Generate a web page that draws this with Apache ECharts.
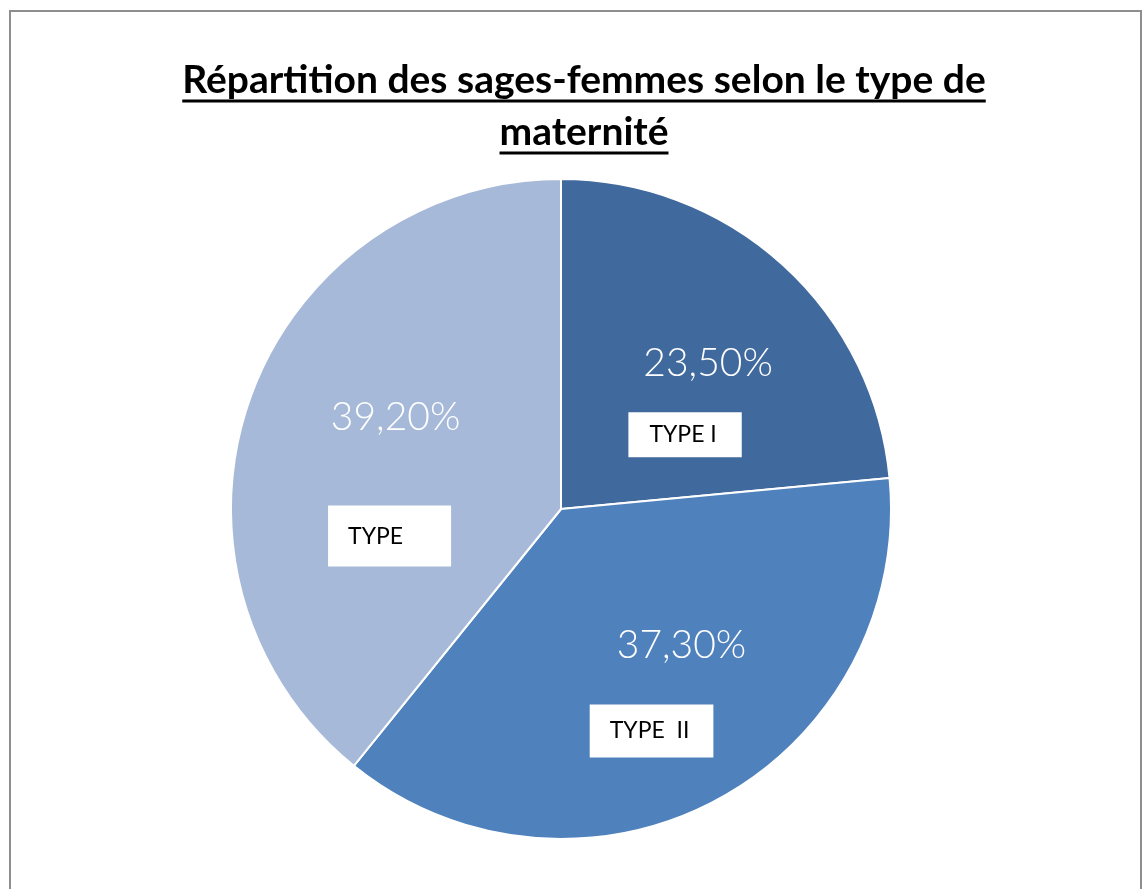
<!DOCTYPE html>
<html>
<head>
<meta charset="utf-8">
<script src="https://cdn.jsdelivr.net/npm/echarts@6/dist/echarts.min.js"></script>
<style>
  html, body { margin: 0; padding: 0; background: #fff; }
  #sf { width: 1143px; height: 889px; }
</style>
</head>
<body>
<div id="sf"></div>
<script>
var typeNames = ['TYPE I', 'TYPE  II', 'TYPE'];
var typeValues = [23.5, 37.3, 39.2];
var typeColors = ['rgb(64,105,157)', 'rgb(79,129,189)', 'rgb(167,185,216)'];
var titleLines = ['Répartition des sages-femmes selon le type de', 'maternité'];

// label placement (nudges from the slice "inside" point) and box sizes
var pctOffsets = [[34, -21], [41, -12], [-7, -36]];
var boxOffsets = [[11, 50], [11, 74], [-13, 83]];
var boxPads = [[0, 25, 0, 21], [0, 24, 0, 20], [0, 48, 0, 20]];
var boxHeights = [45, 53, 61];

var sfChart = echarts.init(document.getElementById('sf'));

var titleFont = 'bold 39px Lato';
var cvs = document.createElement('canvas').getContext('2d');
cvs.font = titleFont;

var titleY = [80, 132];
var graphics = [
  {
    type: 'rect',
    shape: { x: 10, y: 11, width: 1131, height: 900 },
    style: { fill: 'none', stroke: '#8e8e8e', lineWidth: 2 },
    z: 1
  }
];
for (var i = 0; i < titleLines.length; i++) {
  var w = cvs.measureText(titleLines[i]).width;
  graphics.push({
    type: 'text',
    x: 584, y: titleY[i],
    style: {
      text: titleLines[i],
      font: titleFont,
      fill: '#000',
      align: 'center',
      verticalAlign: 'middle'
    }
  });
  graphics.push({
    type: 'line',
    shape: { x1: 584 - w / 2, y1: titleY[i] + 21, x2: 584 + w / 2, y2: titleY[i] + 21 },
    style: { stroke: '#000', lineWidth: 3 }
  });
}

var pctData = [];
var boxData = [];
for (var k = 0; k < typeValues.length; k++) {
  pctData.push({
    value: typeValues[k],
    name: typeNames[k],
    itemStyle: { color: typeColors[k] },
    label: { offset: pctOffsets[k] }
  });
  boxData.push({
    value: typeValues[k],
    name: typeNames[k],
    label: {
      offset: boxOffsets[k],
      padding: boxPads[k],
      height: boxHeights[k],
      lineHeight: boxHeights[k]
    }
  });
}

var option = {
  backgroundColor: '#FFFFFF',
  animation: false,
  graphic: graphics,
  series: [
    {
      name: 'pct',
      type: 'pie',
      center: [561, 509],
      radius: [0, 330],
      startAngle: 90,
      clockwise: true,
      silent: true,
      itemStyle: { borderColor: '#fff', borderWidth: 2 },
      label: {
        position: 'inside',
        color: '#fff',
        fontFamily: 'Lato',
        fontWeight: 300,
        fontSize: 39,
        formatter: function (p) {
          return p.value.toFixed(2).replace('.', ',') + '%';
        }
      },
      labelLine: { show: false },
      data: pctData
    },
    {
      name: 'types',
      type: 'pie',
      center: [561, 509],
      radius: [0, 330],
      startAngle: 90,
      clockwise: true,
      silent: true,
      itemStyle: { color: 'rgba(0,0,0,0)', borderWidth: 0 },
      label: {
        position: 'inside',
        color: '#000',
        fontFamily: 'Lato',
        fontSize: 23,
        backgroundColor: '#fff',
        formatter: '{b}'
      },
      labelLine: { show: false },
      data: boxData
    }
  ]
};

sfChart.setOption(option);
window.addEventListener('resize', function () {
  sfChart.resize();
});
</script>
</body>
</html>
